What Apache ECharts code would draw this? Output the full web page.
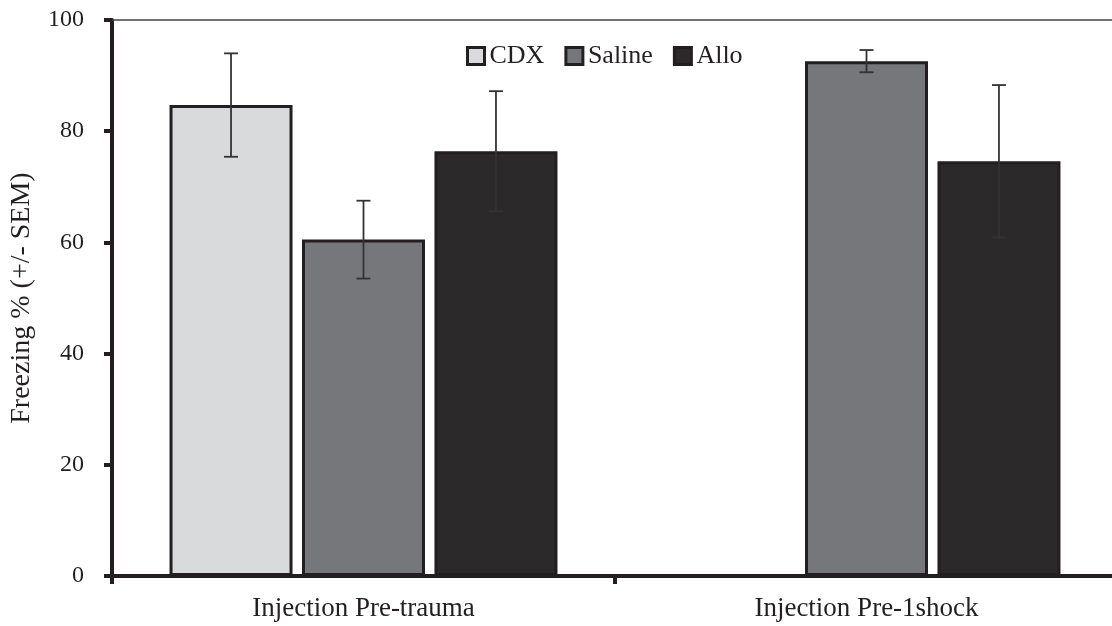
<!DOCTYPE html>
<html>
<head>
<meta charset="utf-8">
<script src="https://cdn.jsdelivr.net/npm/echarts@6/dist/echarts.min.js"></script>
<style>
html,body{margin:0;padding:0;background:#fff;overflow:hidden;}
#chart{width:1112px;height:626px;}
</style>
</head>
<body>
<div id="chart"></div>
<script>
const categories = ['Injection Pre-trauma', 'Injection Pre-1shock'];
const seriesNames = ['CDX', 'Saline', 'Allo'];
const cdxValues = [84.7, null];
const cdxSem = [9.3, null];
const salineValues = [60.5, 92.6];
const salineSem = [7.0, 2.0];
const alloValues = [76.4, 74.6];
const alloSem = [10.8, 13.7];
const yTicks = [0, 20, 40, 60, 80, 100];

const FONT = '"Liberation Serif", "Times New Roman", serif';
const INK = '#231f20';
const fills = ['#d9dadb', '#76777b', '#2b292a'];
const BAR_W = 123;
const GAP_FRAC = 0.077;
const spacing = BAR_W * (1 + GAP_FRAC);

const allValues = [cdxValues, salineValues, alloValues];
const allSem = [cdxSem, salineSem, alloSem];

const errData = [];
allValues.forEach((vals, k) => {
  vals.forEach((v, i) => {
    if (v != null) errData.push([i, v, allSem[k][i], k]);
  });
});

const chart = echarts.init(document.getElementById('chart'));
const barSeries = seriesNames.map((name, k) => ({
  name: name,
  type: 'bar',
  data: allValues[k].map(v => v == null ? '-' : v),
  barWidth: BAR_W,
  barGap: (GAP_FRAC * 100) + '%',
  itemStyle: { color: fills[k], borderColor: INK, borderWidth: 3 },
  emphasis: { disabled: true },
  animation: false
}));

const option = {
  animation: false,
  grid: { left: 112, width: 1006, top: 20, height: 556, containLabel: false, outerBoundsMode: 'none' },
  legend: {
    data: seriesNames,
    left: 461,
    top: 38,
    itemWidth: 17,
    itemHeight: 17,
    itemGap: 20,
    icon: 'rect',
    itemStyle: { borderColor: INK, borderWidth: 3 },
    textStyle: { fontFamily: FONT, fontSize: 26, color: INK }
  },
  xAxis: [{
    type: 'category',
    data: categories,
    boundaryGap: true,
    axisLine: { lineStyle: { color: INK, width: 4 } },
    axisTick: { show: true, length: 8, lineStyle: { color: INK, width: 4 }, interval: 0 },
    axisLabel: { fontFamily: FONT, fontSize: 27, color: INK, margin: 19, interval: 0 },
    splitLine: { show: false }
  }, {
    type: 'category',
    data: categories,
    position: 'top',
    axisLine: { lineStyle: { color: '#444', width: 1.5 } },
    axisTick: { show: false },
    axisLabel: { show: false },
    splitLine: { show: false }
  }],
  yAxis: {
    type: 'value',
    min: yTicks[0],
    max: yTicks[yTicks.length - 1],
    interval: 20,
    name: 'Freezing % (+/- SEM)',
    nameLocation: 'middle',
    nameGap: 76,
    nameTextStyle: { fontFamily: FONT, fontSize: 28, color: INK },
    axisLine: { show: true, lineStyle: { color: INK, width: 4 } },
    axisTick: { show: true, length: 8, lineStyle: { color: INK, width: 4 } },
    axisLabel: { fontFamily: FONT, fontSize: 24, color: INK, margin: 28 },
    splitLine: { show: false }
  },
  series: barSeries.concat([{
    type: 'custom',
    name: 'err',
    z: 10,
    data: errData,
    renderItem: function (params, api) {
      const x = api.value(0), m = api.value(1), s = api.value(2), k = api.value(3);
      const top = api.coord([x, m + s]);
      const bot = api.coord([x, m - s]);
      const dx = (k - 1) * spacing;
      const cx = top[0] + dx;
      const hw = 7;
      const st = { stroke: '#333', lineWidth: 1.8 };
      return {
        type: 'group',
        children: [
          { type: 'line', shape: { x1: cx, y1: top[1], x2: cx, y2: bot[1] }, style: st },
          { type: 'line', shape: { x1: cx - hw, y1: top[1], x2: cx + hw, y2: top[1] }, style: st },
          { type: 'line', shape: { x1: cx - hw, y1: bot[1], x2: cx + hw, y2: bot[1] }, style: st }
        ]
      };
    }
  }])
};
chart.setOption(option);
</script>
</body>
</html>
